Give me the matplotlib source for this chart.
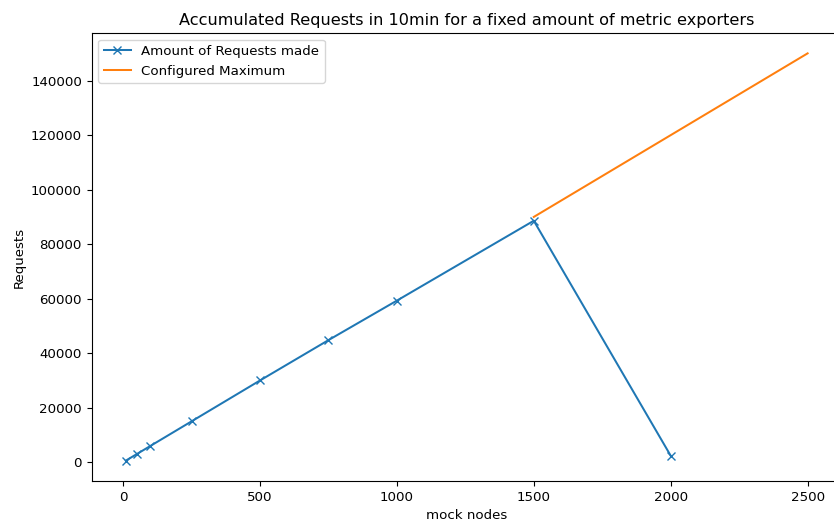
import matplotlib
matplotlib.use("Agg")
import matplotlib.pyplot as plt

nodes = [10, 50, 100, 250, 500, 750, 1000, 1500, 2000]
requests = [600, 3000, 6000, 15000, 30000, 44800, 59300, 88600, 2400]
max_nodes = [1500, 2500]
max_requests = [90000, 150000]

S = 0.967
plt.rcParams["font.size"] = 10 * S
plt.rcParams["lines.linewidth"] = 1.5 * S
plt.rcParams["lines.markersize"] = 6 * S

fig = plt.figure(figsize=(8.34, 5.23), dpi=100)
ax = fig.add_axes([91.7/834, 42/523, 750/834, 448/523])
ax.plot(nodes, requests, marker="x", label="Amount of Requests made")
ax.plot(max_nodes, max_requests, label="Configured Maximum")
ax.set_title("Accumulated Requests in 10min for a fixed amount of metric exporters")
ax.set_xlabel("mock nodes")
ax.set_ylabel("Requests")
ax.legend(loc="upper left")
# the right spine lies beyond the cropped canvas in the reference
ax.spines["right"].set_visible(False)
fig.savefig("out.png", dpi=100)
